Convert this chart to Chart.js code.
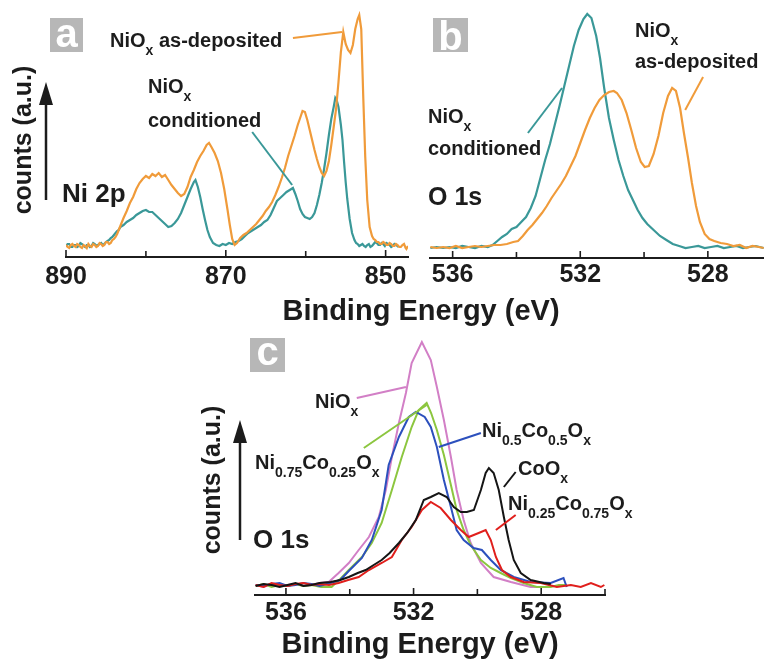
<!DOCTYPE html>
<html>
<head>
<meta charset="utf-8">
<script src="https://cdn.jsdelivr.net/npm/chart.js@4.4.1/dist/chart.umd.min.js"></script>
<style>
  html, body { margin: 0; padding: 0; background: #fff; }
  #wrap { position: relative; width: 764px; height: 659px; overflow: hidden; }
  canvas { position: absolute; }
</style>
</head>
<body>
<div id="wrap">
  <canvas id="chartA" width="764" height="330" style="left:0;top:0"></canvas>
  <canvas id="chartB" width="349" height="300" style="left:415px;top:0"></canvas>
  <canvas id="chartC" width="460" height="339" style="left:180px;top:320px"></canvas>
</div>
<script>
// ---- data: [binding energy (eV), counts (a.u.)] ----
const ni2pAsDeposited = [[890.0,12],[889.8,10],[889.6,9],[889.4,12],[889.2,13],[889.0,11],[888.8,10],[888.6,13],[888.4,12],[888.2,10],[888.0,9],[887.8,12],[887.6,11],[887.4,9],[887.2,13],[887.0,11],[886.8,10],[886.6,13],[886.4,12],[886.2,10],[886.0,11],[885.8,14],[885.6,13],[885.4,11],[885.2,12],[885.0,15],[884.8,15],[884.6,13],[884.4,14],[884.2,17],[884.0,18],[883.8,20],[883.6,23],[883.4,27],[883.2,31],[882.8,39],[882.4,46],[882.0,54],[881.6,60],[881.2,68],[880.8,74],[880.4,78],[880.0,81],[879.6,79],[879.2,83],[878.8,81],[878.4,84],[878.0,80],[877.6,82],[877.2,77],[876.8,72],[876.4,68],[876.0,64],[875.6,61],[875.2,63],[874.8,70],[874.4,80],[874.0,87],[873.6,95],[873.2,101],[872.8,106],[872.4,112],[872.1,114],[871.8,110],[871.4,104],[871.0,96],[870.6,84],[870.2,68],[869.8,48],[869.5,32],[869.2,18],[868.9,12],[868.6,14],[868.2,19],[867.8,22],[867.4,24],[867.0,27],[866.6,30],[866.2,33],[865.8,37],[865.4,41],[865.0,46],[864.6,50],[864.2,55],[863.8,62],[863.4,70],[863.0,79],[862.6,89],[862.2,101],[861.8,111],[861.4,121],[861.0,132],[860.7,139],[860.4,146],[860.1,145],[859.8,137],[859.5,127],[859.2,117],[858.9,107],[858.6,98],[858.3,90],[858.0,84],[857.7,81],[857.4,86],[857.1,96],[856.8,112],[856.5,130],[856.2,148],[855.9,175],[855.6,205],[855.3,225],[855.0,213],[854.7,207],[854.4,204],[854.1,212],[853.8,228],[853.5,238],[853.3,242],[853.05,228],[852.8,160],[852.55,100],[852.3,57],[852.0,30],[851.7,21],[851.5,18],[851.3,17],[851.1,15],[850.9,15],[850.7,13],[850.5,13],[850.3,15],[850.1,14],[849.9,12],[849.7,12],[849.5,14],[849.3,13],[849.1,11],[848.9,11],[848.7,13],[848.5,12],[848.3,10],[848.1,10],[847.9,12],[847.7,13],[847.5,9],[847.4,8],[847.2,11]];
const ni2pConditioned = [[890.0,11],[889.8,13],[889.6,13],[889.4,10],[889.2,10],[889.0,12],[888.8,12],[888.6,10],[888.4,11],[888.2,14],[888.0,13],[887.8,11],[887.6,10],[887.4,12],[887.2,12],[887.0,10],[886.8,11],[886.6,14],[886.4,13],[886.2,11],[886.0,12],[885.8,13],[885.6,14],[885.4,12],[885.2,13],[885.0,15],[884.8,16],[884.6,17],[884.4,19],[884.2,20],[884.0,22],[883.8,24],[883.6,26],[883.4,27],[883.2,30],[882.8,32],[882.4,35],[882.0,37],[881.6,39],[881.2,42],[880.8,44],[880.4,46],[880.0,47],[879.6,45],[879.2,45],[878.8,42],[878.4,39],[878.0,36],[877.6,33],[877.2,30],[876.8,31],[876.4,34],[876.0,38],[875.6,44],[875.2,52],[874.8,60],[874.4,68],[874.0,75],[873.8,77],[873.5,70],[873.2,60],[872.9,48],[872.6,37],[872.3,27],[872.0,20],[871.6,14],[871.2,12],[870.8,11],[870.4,13],[870.0,12],[869.6,14],[869.2,13],[868.8,15],[868.4,16],[868.0,18],[867.6,21],[867.2,24],[866.8,26],[866.4,28],[866.0,30],[865.6,32],[865.2,35],[864.8,37],[864.4,42],[864.0,49],[863.6,56],[863.2,59],[862.8,62],[862.4,65],[862.0,67],[861.6,69],[861.3,63],[861.0,56],[860.7,48],[860.4,43],[860.1,40],[859.8,39],[859.5,38],[859.2,40],[858.9,44],[858.6,52],[858.3,62],[858.0,74],[857.7,88],[857.4,104],[857.1,122],[856.8,138],[856.5,150],[856.3,159],[856.1,156],[855.9,150],[855.6,132],[855.4,117],[855.2,95],[855.0,75],[854.8,58],[854.5,38],[854.2,24],[853.9,17],[853.7,14],[853.5,13],[853.3,11],[853.1,12],[852.9,13],[852.7,11],[852.5,10],[852.3,12],[852.1,13],[851.9,10],[851.7,11],[851.5,13],[851.3,15],[851.1,14],[850.9,12],[850.7,12],[850.5,14],[850.3,13],[850.1,11],[849.9,14],[849.7,13],[849.5,12],[849.3,10],[849.1,11],[848.9,13],[848.7,12],[848.5,11],[848.4,10]];

const o1sConditioned = [[536.7,10],[536.5,11],[536.3,10],[536.1,11],[535.9,10],[535.7,12],[535.5,11],[535.3,10],[535.1,12],[534.9,11],[534.75,13],[534.6,17],[534.45,21],[534.3,24],[534.15,29],[534.0,31],[533.85,36],[533.7,41],[533.55,50],[533.4,62],[533.25,80],[533.1,98],[532.95,114],[532.8,133],[532.65,152],[532.5,172],[532.35,192],[532.2,212],[532.05,228],[531.9,239],[531.78,244],[531.65,240],[531.5,222],[531.38,200],[531.25,170],[531.1,140],[530.95,118],[530.8,98],[530.65,82],[530.5,68],[530.35,58],[530.2,48],[530.05,40],[529.9,34],[529.7,28],[529.5,22],[529.3,18],[529.1,14],[528.9,12],[528.7,10],[528.5,11],[528.3,12],[528.1,10],[527.9,11],[527.7,12],[527.5,10],[527.3,11],[527.1,12],[526.9,10],[526.7,11],[526.5,12],[526.25,10]];
const o1sAsDeposited = [[536.7,11],[536.5,10],[536.3,11],[536.1,10],[535.9,12],[535.7,10],[535.5,11],[535.3,12],[535.1,11],[534.9,12],[534.7,13],[534.5,13],[534.3,14],[534.1,16],[533.95,17],[533.8,22],[533.65,28],[533.5,33],[533.35,39],[533.2,45],[533.05,52],[532.9,60],[532.75,67],[532.6,74],[532.45,82],[532.3,92],[532.15,102],[532.0,115],[531.85,128],[531.7,140],[531.55,150],[531.4,158],[531.25,163],[531.1,166],[530.95,167],[530.85,165],[530.7,158],[530.55,145],[530.4,128],[530.25,110],[530.1,96],[529.98,91],[529.85,92],[529.7,104],[529.55,122],[529.4,145],[529.25,162],[529.12,170],[529.0,167],[528.87,150],[528.75,125],[528.62,100],[528.5,75],[528.37,52],[528.25,36],[528.1,24],[527.95,19],[527.8,17],[527.6,15],[527.4,14],[527.2,12],[527.0,13],[526.8,10],[526.6,12],[526.4,11],[526.25,10]];

const o1sNiOx = [[536.95,10],[536.7,8],[536.45,11],[536.2,9],[535.95,10],[535.7,11],[535.45,9],[535.2,10],[534.95,12],[534.66,13],[534.35,22],[534.03,32],[533.72,45],[533.4,58],[533.09,78],[532.87,105],[532.68,138],[532.46,172],[532.24,202],[532.06,232],[531.74,253],[531.46,235],[531.27,208],[531.05,175],[530.83,138],[530.65,105],[530.43,75],[530.21,52],[529.89,32],[529.49,18],[528.95,13],[528.33,8],[527.92,8]];
const o1sNi75 = [[536.95,9],[536.7,11],[536.45,8],[536.2,10],[535.95,9],[535.7,11],[535.45,9],[535.2,10],[534.9,8],[534.57,8],[534.3,16],[534.03,25],[533.62,38],[533.31,52],[533.0,72],[532.68,105],[532.37,138],[532.06,168],[531.84,185],[531.59,192],[531.45,182],[531.27,165],[531.05,140],[530.83,110],[530.65,85],[530.43,65],[530.21,50],[529.89,35],[529.58,27],[529.27,22],[528.95,17],[528.55,12],[528.14,8],[527.7,8],[527.45,10],[527.2,10]];
const o1sNi50 = [[536.95,10],[536.7,9],[536.45,11],[536.2,12],[535.95,9],[535.7,10],[535.45,12],[535.2,11],[534.95,9],[534.6,12],[534.3,15],[534.03,24],[533.62,37],[533.31,55],[533.0,85],[532.78,130],[532.46,158],[532.15,178],[531.93,183],[531.65,178],[531.46,168],[531.27,148],[531.05,115],[530.83,88],[530.65,65],[530.43,55],[530.12,47],[529.86,45],[529.58,35],[529.27,25],[528.86,18],[528.33,13],[527.7,12],[527.3,17],[527.2,8]];
const o1sCoOx = [[536.95,9],[536.7,11],[536.45,10],[536.2,8],[535.95,10],[535.7,12],[535.45,9],[535.2,10],[534.95,12],[534.6,13],[534.3,15],[534.03,18],[533.75,22],[533.5,25],[533.25,30],[533.0,35],[532.75,42],[532.46,52],[532.2,62],[531.93,75],[531.68,95],[531.46,98],[531.21,102],[530.96,98],[530.74,88],[530.52,83],[530.33,83],[530.11,85],[529.89,105],[529.74,122],[529.64,127],[529.49,122],[529.33,105],[529.17,78],[529.02,55],[528.86,35],[528.64,22],[528.33,15],[527.92,12],[527.7,11]];
const o1sNi25 = [[536.95,10],[536.7,8],[536.45,12],[536.2,10],[535.95,9],[535.7,11],[535.45,12],[535.2,10],[534.95,11],[534.65,10],[534.35,12],[534.05,15],[533.72,18],[533.4,25],[533.0,32],[532.68,38],[532.37,55],[532.06,68],[531.74,85],[531.46,93],[531.15,87],[530.83,75],[530.52,65],[530.27,58],[529.96,62],[529.74,65],[529.58,55],[529.42,38],[529.23,25],[528.95,18],[528.55,13],[528.01,12],[527.51,8],[527.07,10],[526.76,8],[526.44,12],[526.13,8],[526.02,10]];

// axis ranges and labelled ticks
const rangeNi2p = [847.2, 890];
const rangeO1sB = [526.24, 536.71];
const rangeO1sC = [526, 536.97];
const labelsNi2p = [890, 870, 850];
const labelsO1s = [536, 532, 528];

// ---- styling ----
const FONT = "'Liberation Sans', Arial, sans-serif";
const INK = '#1c1c1c';
const ORANGE = '#f09b3a';
const TEAL = '#3a9898';
const PINK = '#d27fc6';
const GREEN = '#8cc63f';
const BLUE = '#2c50bd';
const RED = '#e01f1c';
const BLACK = '#151515';

const toXY = arr => arr.map(p => ({ x: p[0], y: p[1] }));

function line(data, color, width) {
  return { data: toXY(data), borderColor: color, borderWidth: width || 2, pointRadius: 0, tension: 0, fill: false };
}

// draws text with subscript runs: strings are normal, one-element arrays are subscripts
function richText(ctx, x, y, parts, size) {
  let cx = x;
  parts.forEach(p => {
    const sub = Array.isArray(p);
    const s = sub ? p[0] : p;
    ctx.font = 'bold ' + (sub ? Math.round(size * 0.68) : size) + 'px ' + FONT;
    ctx.fillText(s, cx, sub ? y + size * 0.38 : y);
    cx += ctx.measureText(s).width;
  });
}

function makeOverlay(cfg) {
  return {
    id: 'overlay',
    afterDraw(chart) {
      const ctx = chart.ctx;
      const xs = chart.scales.x, ys = chart.scales.y;
      ctx.save();
      // inward tick marks
      ctx.strokeStyle = INK;
      ctx.lineWidth = 1.6;
      xs.ticks.forEach(t => {
        const px = xs.getPixelForValue(t.value);
        ctx.beginPath();
        ctx.moveTo(px, xs.top);
        ctx.lineTo(px, xs.top - (t.label ? 7 : 6));
        ctx.stroke();
      });
      // leader lines (data coordinates)
      ctx.lineWidth = 2;
      cfg.leaders.forEach(l => {
        ctx.strokeStyle = l.color;
        ctx.beginPath();
        ctx.moveTo(xs.getPixelForValue(l.at[0]), ys.getPixelForValue(l.at[1]));
        ctx.lineTo(xs.getPixelForValue(l.at[2]), ys.getPixelForValue(l.at[3]));
        ctx.stroke();
      });
      // page coordinates from here on
      ctx.translate(-cfg.dx, -cfg.dy);
      ctx.fillStyle = INK;
      ctx.textAlign = 'left';
      ctx.textBaseline = 'alphabetic';
      cfg.labels.forEach(l => richText(ctx, l.x, l.y, l.parts, l.size || 20));

      // panel letter
      const b = cfg.box;
      ctx.fillStyle = '#b7b7b7';
      ctx.fillRect(b.x, b.y, b.w, b.h);
      ctx.fillStyle = '#fff';
      ctx.textAlign = 'center';
      ctx.font = 'bold 40px ' + FONT;
      ctx.fillText(b.letter, b.x + b.w / 2, b.base);

      // counts axis label with arrow
      if (cfg.yLabel) {
        const y = cfg.yLabel;
        ctx.save();
        ctx.fillStyle = INK;
        ctx.translate(y.x, y.y);
        ctx.rotate(-Math.PI / 2);
        ctx.textBaseline = 'middle';
        ctx.font = 'bold 25px ' + FONT;
        ctx.fillText('counts (a.u.)', 0, 0);
        ctx.restore();
        ctx.strokeStyle = INK;
        ctx.lineWidth = 2.5;
        ctx.beginPath();
        ctx.moveTo(y.ax, y.a0);
        ctx.lineTo(y.ax, y.a1 + 18);
        ctx.stroke();
        ctx.fillStyle = INK;
        ctx.beginPath();
        ctx.moveTo(y.ax, y.a1);
        ctx.lineTo(y.ax - 7, y.a1 + 23);
        ctx.lineTo(y.ax + 7, y.a1 + 23);
        ctx.closePath();
        ctx.fill();
      }
      // axis title
      if (cfg.title) {
        ctx.fillStyle = INK;
        ctx.textAlign = 'center';
        ctx.textBaseline = 'alphabetic';
        ctx.font = 'bold 29px ' + FONT;
        ctx.fillText('Binding Energy (eV)', cfg.title.x, cfg.title.y);
      }
      ctx.restore();
    }
  };
}

function xAxis(range, step, labelled, pad) {
  return {
    type: 'linear', reverse: true, min: range[0], max: range[1],
    afterFit: s => { s.height = 40; },
    grid: { display: false, drawTicks: false },
    border: { display: true, color: INK, width: 2 },
    ticks: {
      stepSize: step, autoSkip: false, maxRotation: 0, includeBounds: false,
      padding: pad, color: INK, font: { family: FONT, size: 25, weight: 'bold' },
      callback: v => labelled.includes(v) ? String(v) : ''
    }
  };
}

function yAxis(max) {
  return { display: false, min: 0, max: max };
}

function baseOptions(padding, scales) {
  return {
    responsive: false, animation: false,
    layout: { padding: padding },
    plugins: { legend: { display: false }, tooltip: { enabled: false } },
    scales: scales
  };
}

// ---- panel a: Ni 2p ----
new Chart(document.getElementById('chartA'), {
  type: 'line',
  data: { datasets: [line(ni2pAsDeposited, ORANGE, 2.2), line(ni2pConditioned, TEAL, 2.2)] },
  options: baseOptions({ left: 66, right: 356, top: 7, bottom: 33 },
    { x: xAxis(rangeNi2p, 10, labelsNi2p, 5), y: yAxis(250) }),
  plugins: [makeOverlay({
    dx: 0, dy: 0,
    leaders: [
      { color: ORANGE, at: [861.6, 219, 855.46, 225] },
      { color: TEAL, at: [866.7, 125, 861.7, 72] }
    ],
    labels: [
      { x: 110, y: 47, parts: ['NiO', ['x'], ' as-deposited'] },
      { x: 148, y: 93, parts: ['NiO', ['x']] },
      { x: 148, y: 127, parts: ['conditioned'] },
      { x: 62, y: 202, parts: ['Ni 2p'], size: 26 }
    ],
    box: { x: 50, y: 18, w: 33, h: 34, letter: 'a', base: 47 },
    yLabel: { x: 24, y: 140, ax: 46, a0: 200, a1: 82 },
    title: { x: 421, y: 320 }
  })]
});

// ---- panel b: O 1s, NiOx ----
new Chart(document.getElementById('chartB'), {
  type: 'line',
  data: { datasets: [line(o1sAsDeposited, ORANGE, 2.2), line(o1sConditioned, TEAL, 2.2)] },
  options: baseOptions({ left: 15, right: 0, top: 8, bottom: 2 },
    { x: xAxis(rangeO1sB, 2, labelsO1s, 2), y: yAxis(250) }),
  plugins: [makeOverlay({
    dx: 415, dy: 0,
    leaders: [
      { color: TEAL, at: [533.64, 125, 532.57, 170] },
      { color: ORANGE, at: [528.15, 181, 528.71, 148] }
    ],
    labels: [
      { x: 428, y: 123, parts: ['NiO', ['x']] },
      { x: 428, y: 155, parts: ['conditioned'] },
      { x: 428, y: 205, parts: ['O 1s'], size: 25 },
      { x: 635, y: 37, parts: ['NiO', ['x']] },
      { x: 635, y: 68, parts: ['as-deposited'] }
    ],
    box: { x: 433, y: 18, w: 35, h: 34, letter: 'b', base: 50 }
  })]
});

// ---- panel c: O 1s, Ni/Co oxides ----
new Chart(document.getElementById('chartC'), {
  type: 'line',
  data: { datasets: [
    line(o1sCoOx, BLACK), line(o1sNi25, RED), line(o1sNi50, BLUE),
    line(o1sNi75, GREEN), line(o1sNiOx, PINK)
  ] },
  options: baseOptions({ left: 75, right: 35, top: 15, bottom: 24 },
    { x: xAxis(rangeO1sC, 2, labelsO1s, 3), y: yAxis(260) }),
  plugins: [makeOverlay({
    dx: 180, dy: 320,
    leaders: [
      { color: PINK, at: [533.78, 197, 532.24, 208] },
      { color: GREEN, at: [533.56, 147, 531.59, 190] },
      { color: BLUE, at: [531.21, 148, 529.89, 162] },
      { color: BLACK, at: [529.17, 108, 528.8, 123] },
      { color: RED, at: [529.42, 65, 528.8, 80] }
    ],
    labels: [
      { x: 315, y: 408, parts: ['NiO', ['x']] },
      { x: 255, y: 469, parts: ['Ni', ['0.75'], 'Co', ['0.25'], 'O', ['x']] },
      { x: 482, y: 437, parts: ['Ni', ['0.5'], 'Co', ['0.5'], 'O', ['x']] },
      { x: 518, y: 475, parts: ['CoO', ['x']] },
      { x: 508, y: 510, parts: ['Ni', ['0.25'], 'Co', ['0.75'], 'O', ['x']] },
      { x: 253, y: 548, parts: ['O 1s'], size: 26 }
    ],
    box: { x: 250, y: 338, w: 35, h: 34, letter: 'c', base: 365 },
    yLabel: { x: 213, y: 480, ax: 240, a0: 540, a1: 420 },
    title: { x: 420, y: 653 }
  })]
});
</script>
</body>
</html>
